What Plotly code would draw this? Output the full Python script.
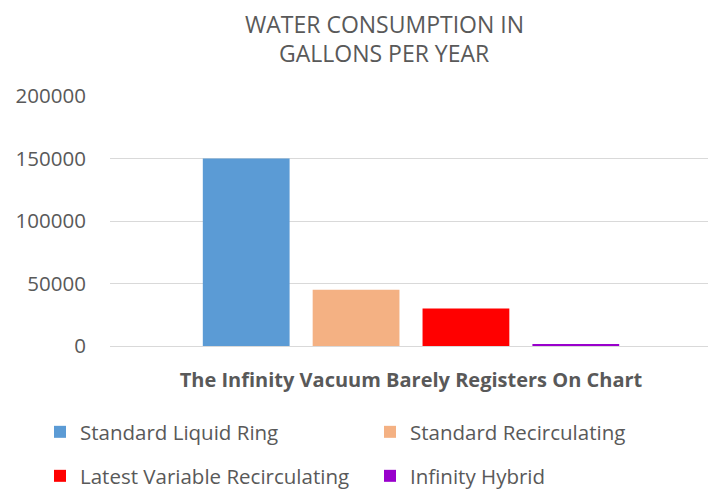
import plotly.graph_objects as go

category = ["The Infinity Vacuum Barely Registers On Chart"]
series_names = ["Standard Liquid Ring", "Standard Recirculating",
                "Latest Variable Recirculating", "Infinity Hybrid"]
series_values = [150000, 45000, 30000, 1200]
series_colors = ["#5B9BD5", "#F4B183", "#FF0000", "#9900CC"]
y_ticks = [0, 50000, 100000, 150000, 200000]
title_lines = ["WATER CONSUMPTION IN", "GALLONS PER YEAR"]

FONT = "Open Sans"
GRAY = "#595959"

W, H = 708, 481
legend_slots = [(32, 424), (362, 424), (32, 468), (362, 468)]
legend_keys = ["legend", "legend2", "legend3", "legend4"]
title_line_y = [1 + 72 / 250, 1 + 43 / 250]

fig = go.Figure()
for i, (n, v, c) in enumerate(zip(series_names, series_values, series_colors)):
    fig.add_trace(go.Bar(
        x=category, y=[v], name=n, marker=dict(color=c, line=dict(width=0)),
        legend=legend_keys[i],
    ))

legend_layout = {}
for key, (lx, ly) in zip(legend_keys, legend_slots):
    legend_layout[key] = dict(
        orientation="h", xref="container", yref="container",
        x=lx / W, y=1 - ly / H, xanchor="left", yanchor="middle",
        font=dict(family=FONT, size=20.5, color=GRAY),
        bgcolor="rgba(0,0,0,0)",
    )

annotations = [dict(
    text=t, xref="paper", yref="paper", x=(376 - 102) / 602, y=ty,
    xanchor="center", yanchor="middle", showarrow=False, borderpad=0,
    font=dict(family=FONT, size=23, color=GRAY),
) for t, ty in zip(title_lines, title_line_y)]

fig.update_layout(
    width=W, height=H,
    margin=dict(l=102, r=4, t=88, b=143, autoexpand=False),
    paper_bgcolor="white", plot_bgcolor="white",
    font=dict(family=FONT, color=GRAY),
    barmode="group", bargap=0.27, bargroupgap=0.21,
    showlegend=True,
    xaxis=dict(
        showgrid=False, showline=False, zeroline=False, automargin=False,
        ticks="outside", ticklen=16, tickcolor="rgba(0,0,0,0)",
        tickfont=dict(family=FONT, size=20, color=GRAY, weight="bold"),
    ),
    yaxis=dict(
        range=[0, 200000], tickvals=y_ticks, tickformat="d", automargin=False,
        showgrid=True, gridcolor="#D9D9D9", gridwidth=1,
        zeroline=True, zerolinecolor="#D9D9D9", zerolinewidth=1,
        showline=False,
        ticks="outside", ticklen=19, tickcolor="rgba(0,0,0,0)",
        tickfont=dict(family=FONT, size=20.5, color=GRAY),
    ),
    annotations=annotations,
    **legend_layout,
)

fig.write_html("out.html")
